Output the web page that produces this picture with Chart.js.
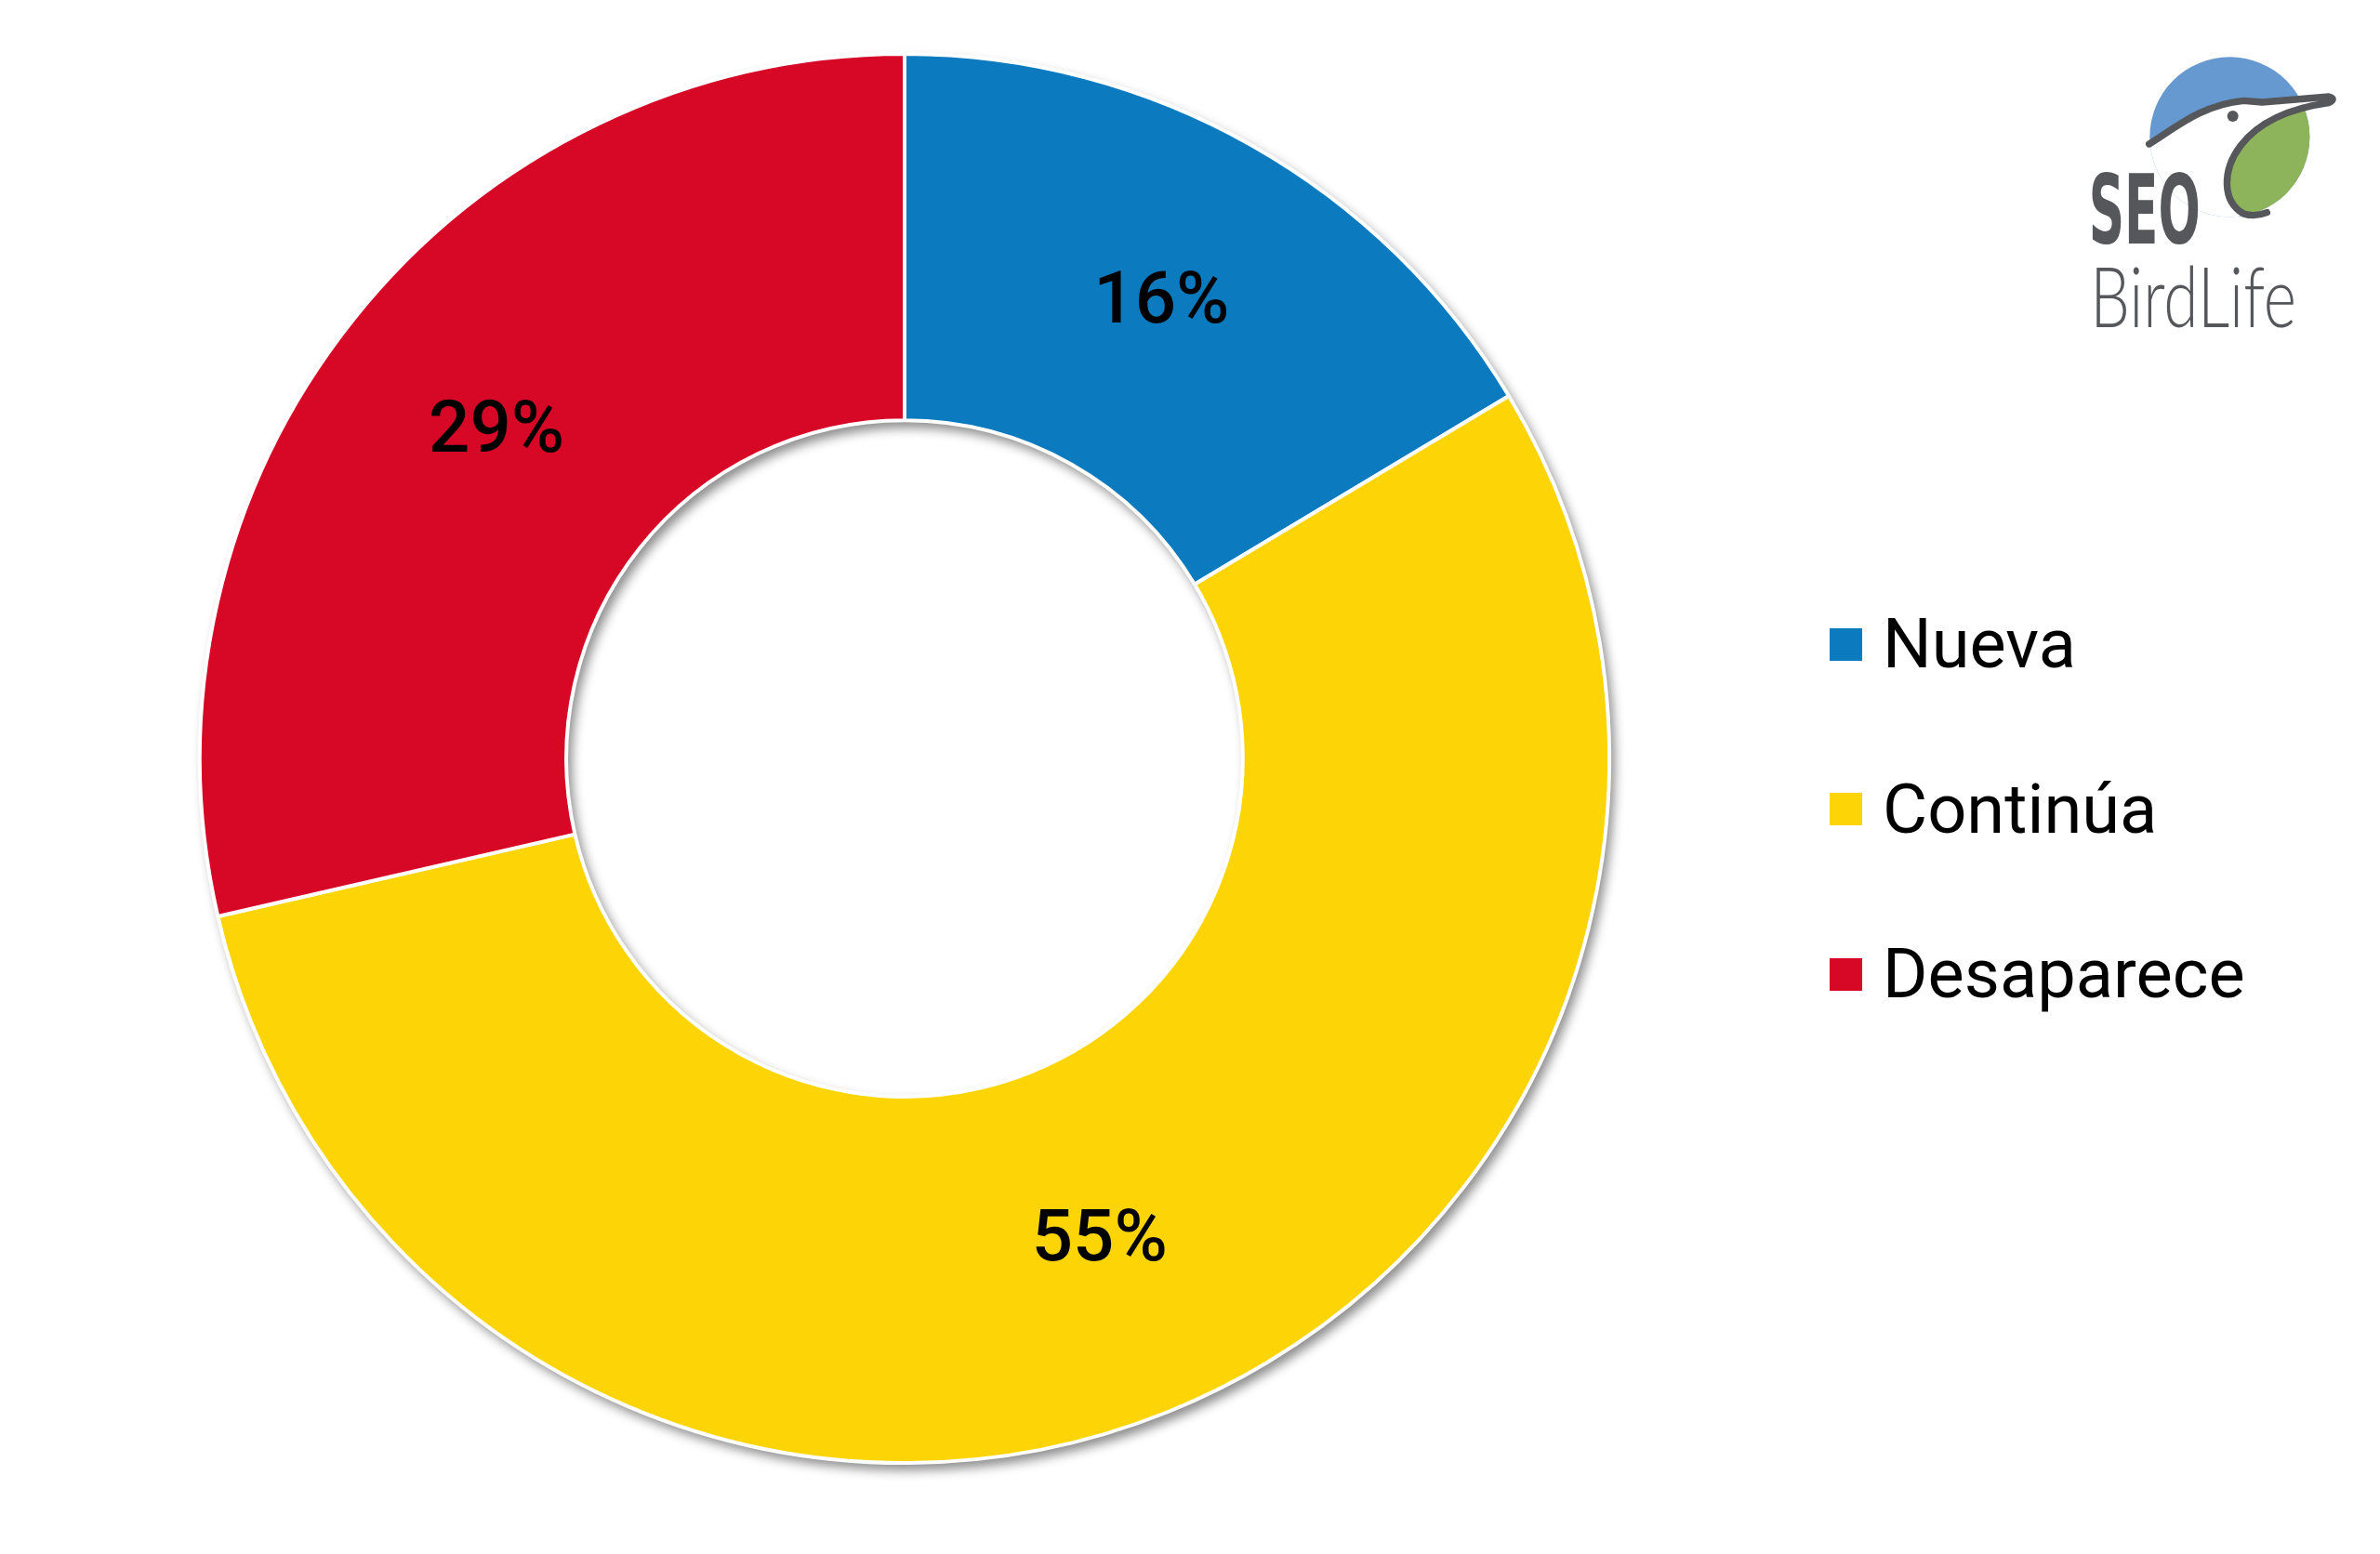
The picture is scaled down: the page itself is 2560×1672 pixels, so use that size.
<!DOCTYPE html>
<html>
<head>
<meta charset="utf-8">
<script src="https://cdn.jsdelivr.net/npm/chart.js@4.4.1/dist/chart.umd.min.js"></script>
<style>
  body { margin: 0; background: #fff; }
  #wrap { position: relative; width: 2560px; height: 1672px; overflow: hidden; }
  #chart { position: absolute; left: 0; top: 0; }
  .legend-row { position: absolute; left: 1968px; height: 100px; display: flex; align-items: center; }
  .legend-row .box { width: 35px; height: 35px; margin-right: 22px; }
  .legend-row .txt { font-family: Roboto, "Noto Sans", sans-serif; font-size: 74px; line-height: 100px; color: #000;
    white-space: nowrap; }
  #logo { position: absolute; left: 2180px; top: 0; }
</style>
</head>
<body>
<div id="wrap">
  <canvas id="chart" width="2560" height="1672"></canvas>
  <div id="legend"></div>
  <svg id="logo" width="380" height="400" viewBox="0 0 1140 1200">
    <defs>
      <clipPath id="disc"><circle cx="655" cy="442" r="258"/></clipPath>
    </defs>
    <circle cx="655" cy="442" r="258" fill="#6699cf"/>
    <g clip-path="url(#disc)">
      <path d="M 395 465 C 470 420, 560 338, 700 328 L 975 318 C 880 345, 760 380, 690 470 C 630 550, 630 650, 700 690 L 300 900 L 300 465 Z" fill="#fff"/>
      <path d="M 975 330 C 880 345, 760 380, 690 470 C 630 550, 630 650, 700 690 L 1100 900 L 1100 330 Z" fill="#8db45a"/>
    </g>
    <path d="M 395 465 C 470 420, 560 338, 700 325 L 760 330 L 975 312 Q 1000 318 975 332 C 880 345, 760 380, 690 470 C 630 550, 630 650, 700 690 C 730 700, 760 692, 775 686"
          fill="none" stroke="#55575a" stroke-width="22" stroke-linejoin="round" stroke-linecap="round"/>
    <circle cx="665" cy="375" r="18" fill="#55575a"/>
    <text x="200" y="785" font-family="'DejaVu Sans Condensed', 'DejaVu Sans', sans-serif" font-weight="bold" font-size="310"
          fill="#55575a" textLength="360" lengthAdjust="spacingAndGlyphs">SEO</text>
    <text x="205" y="1055" font-family="Lato, 'Open Sans', Roboto, sans-serif" font-weight="300" font-size="272"
          fill="#55575a" textLength="665" lengthAdjust="spacingAndGlyphs">BirdLife</text>
  </svg>
</div>
<script>
const categories = ["Nueva", "Continúa", "Desaparece"];
const shares = [16.4, 55.0, 28.6];
const sliceColors = ["#0c7abf", "#fdd406", "#d70826"];

// rounded percentages shown on the ring
const shareLabels = shares.map(function (v) { return Math.round(v) + "%"; });

// soft grey shadow under the whole ring
const ringShadow = {
  id: "ringShadow",
  beforeDatasetsDraw: function (chart) {
    var arc = chart.getDatasetMeta(0).data[0];
    if (!arc) return;
    var ctx = chart.ctx;
    ctx.save();
    ctx.beginPath();
    ctx.arc(arc.x, arc.y, arc.outerRadius + 1, 0, Math.PI * 2);
    ctx.arc(arc.x, arc.y, arc.innerRadius - 1, 0, Math.PI * 2, true);
    ctx.shadowColor = "rgba(0,0,0,0.45)";
    ctx.shadowBlur = 12;
    ctx.shadowOffsetX = 5;
    ctx.shadowOffsetY = 7;
    ctx.fillStyle = "#fff";
    ctx.fill("evenodd");
    ctx.restore();
  }
};

const sliceLabels = {
  id: "sliceLabels",
  afterDatasetsDraw: function (chart) {
    var ctx = chart.ctx;
    ctx.save();
    ctx.font = "500 78px Roboto, 'Noto Sans', sans-serif";
    ctx.fillStyle = "#000";
    ctx.textAlign = "center";
    ctx.textBaseline = "middle";
    chart.getDatasetMeta(0).data.forEach(function (el, i) {
      var p = el.tooltipPosition();
      ctx.fillText(shareLabels[i], p.x, p.y);
    });
    ctx.restore();
  }
};

var ctx = document.getElementById("chart").getContext("2d");
var myChart = new Chart(ctx, {
  type: "doughnut",
  data: {
    labels: categories,
    datasets: [
      {
        data: shares,
        backgroundColor: sliceColors,
        borderColor: "#fff",
        borderWidth: 4,
      },
    ],
  },
  options: {
    responsive: false,
    animation: false,
    devicePixelRatio: 1,
    cutout: "48%",
    layout: {
      padding: { left: 213, top: 56, right: 827, bottom: 96 },
    },
    plugins: {
      legend: { display: false },
      tooltip: { enabled: false },
    },
  },
  plugins: [ringShadow, sliceLabels],
});

// legend on the right, built from the same arrays
var legend = document.getElementById("legend");
categories.forEach(function (name, i) {
  var row = document.createElement("div");
  row.className = "legend-row";
  row.style.top = (693 + i * 177.5 - 50) + "px";
  row.innerHTML = '<span class="box" style="background:' + sliceColors[i] + '"></span><span class="txt">' + name + "</span>";
  legend.appendChild(row);
});
</script>
</body>
</html>
